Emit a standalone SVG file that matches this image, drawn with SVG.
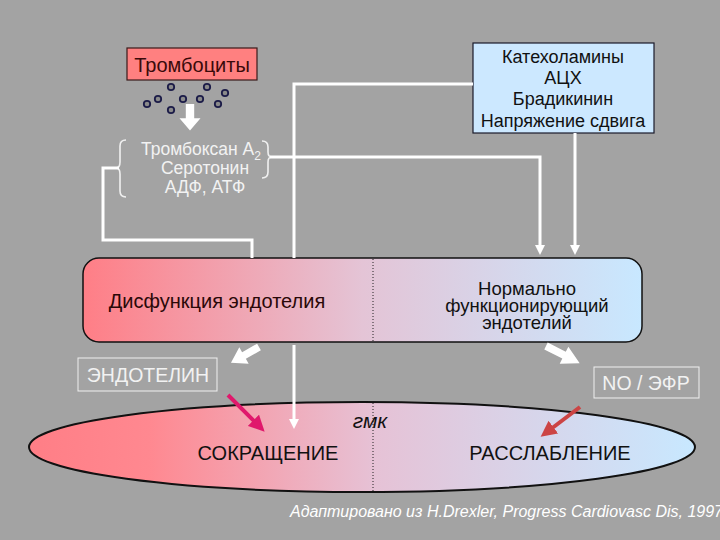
<svg xmlns="http://www.w3.org/2000/svg" width="720" height="540" viewBox="0 0 720 540">
<style>
text{font-family:"Liberation Sans",Arial,sans-serif}
.w{fill:#F2F2F2}
.k{fill:#111}
.ln{stroke:#FFFFFF;stroke-width:3;fill:none}
.br{stroke:#F0F0F0;stroke-width:1.6;fill:none}
.dot{fill:#8A8A8A;stroke:#1C1C48;stroke-width:1.8}
.blk{fill:#FFFFFF}
</style>
<defs>
<marker id="wh" markerWidth="10" markerHeight="10" refX="5" refY="5" orient="auto" markerUnits="userSpaceOnUse" viewBox="0 0 10 10"><path d="M0,0 L10,5 L0,10 Z" fill="#FFFFFF"/></marker>
<marker id="pk" markerWidth="16" markerHeight="16" refX="8" refY="8" orient="auto" markerUnits="userSpaceOnUse" viewBox="0 0 16 16"><path d="M0,0 L16,8 L0,16 Z" fill="#E0186C"/></marker>
<marker id="rd" markerWidth="16" markerHeight="16" refX="8" refY="8" orient="auto" markerUnits="userSpaceOnUse" viewBox="0 0 16 16"><path d="M0,0 L16,8 L0,16 Z" fill="#CC4444"/></marker>
<linearGradient id="gb" gradientUnits="userSpaceOnUse" x1="83" y1="0" x2="642" y2="0">
<stop offset="0" stop-color="#FF7E86"/><stop offset="0.5" stop-color="#E4C4D6"/><stop offset="1" stop-color="#C8E8FF"/>
</linearGradient>
<linearGradient id="ge" gradientUnits="userSpaceOnUse" x1="29" y1="0" x2="695" y2="0">
<stop offset="0" stop-color="#FF7E86"/><stop offset="0.18" stop-color="#FF8890"/><stop offset="0.52" stop-color="#E6C2D6"/><stop offset="1" stop-color="#C8E8FF"/>
</linearGradient>
<path id="barrow" d="M0,-4 L15,-4 L15,-10 L28,0 L15,10 L15,4 L0,4 Z"/>
</defs>
<rect width="720" height="540" fill="#A3A3A3"/>

<g id="platelets">
<rect x="127" y="48" width="130" height="32" fill="#FF8080" stroke="#3A1A1A" stroke-width="1.2"/>
<text x="192" y="72" text-anchor="middle" font-size="20" fill="#3A0A0A">Тромбоциты</text>
<circle class="dot" cx="171" cy="87" r="3.2"/>
<circle class="dot" cx="207" cy="87" r="3.2"/>
<circle class="dot" cx="147" cy="104" r="3.2"/>
<circle class="dot" cx="158" cy="99" r="3.2"/>
<circle class="dot" cx="183" cy="99" r="3.2"/>
<circle class="dot" cx="200" cy="99" r="3.2"/>
<circle class="dot" cx="225" cy="93" r="3.2"/>
<circle class="dot" cx="218" cy="104" r="3.2"/>
<circle class="dot" cx="171" cy="110" r="3.2"/>
</g>

<g id="mediators">
<path class="br" d="M126,140 Q120,140 120,146 V162 Q120,168 116,168 Q120,168 120,174 V191 Q120,197 126,197"/>
<path class="br" d="M262,141 Q268,141 268,147 V152 Q268,157 272,157 Q268,157 268,162 V172 Q268,178 262,178"/>
<text x="201" y="155" text-anchor="middle" font-size="17.5" class="w">Тромбоксан A<tspan font-size="12" dy="5">2</tspan></text>
<text x="205" y="174" text-anchor="middle" font-size="17.5" class="w">Серотонин</text>
<text x="205" y="193" text-anchor="middle" font-size="17.5" class="w">АДФ, АТФ</text>
</g>

<g id="stimuli">
<rect x="473" y="43" width="181" height="90" fill="#CCE8FF" stroke="#1A1A2A" stroke-width="1.2"/>
<text x="563" y="63" text-anchor="middle" font-size="18" class="k">Катехоламины</text>
<text x="563" y="84" text-anchor="middle" font-size="18" class="k">АЦХ</text>
<text x="563" y="105" text-anchor="middle" font-size="18" class="k">Брадикинин</text>
<text x="563" y="127" text-anchor="middle" font-size="18" class="k">Напряжение сдвига</text>
</g>

<g id="endothelium">
<rect x="83" y="258" width="559" height="84" rx="16" fill="url(#gb)" stroke="#111" stroke-width="1.5"/>
<line x1="373" y1="259" x2="373" y2="341" stroke="#222" stroke-width="1" stroke-dasharray="1,2"/>
<text x="217" y="308" text-anchor="middle" font-size="20" fill="#2A0808">Дисфункция эндотелия</text>
<text x="527" y="295" text-anchor="middle" font-size="18.5" class="k">Нормально</text>
<text x="527" y="312" text-anchor="middle" font-size="18.5" class="k">функционирующий</text>
<text x="527" y="329" text-anchor="middle" font-size="18.5" class="k">эндотелий</text>
</g>

<g id="endothelin">
<rect x="78" y="358" width="139" height="33" fill="none" stroke="#F0F0F0" stroke-width="1"/>
<text x="148" y="382" text-anchor="middle" font-size="19.5" class="w">ЭНДОТЕЛИН</text>
</g>

<g id="no">
<rect x="594" y="367" width="105" height="31" fill="none" stroke="#F0F0F0" stroke-width="1"/>
<text x="646" y="390" text-anchor="middle" font-size="19.5" class="w">NO / ЭФР</text>
</g>

<g id="smc">
<ellipse cx="362" cy="447" rx="333" ry="45" fill="url(#ge)" stroke="#111" stroke-width="2"/>
<line x1="373" y1="403" x2="373" y2="492" stroke="#222" stroke-width="1" stroke-dasharray="1,2"/>
<text x="370" y="428" text-anchor="middle" font-size="21" font-style="italic" class="k">гмк</text>
<text x="268" y="460" text-anchor="middle" font-size="20" class="k">СОКРАЩЕНИЕ</text>
<text x="550" y="460" text-anchor="middle" font-size="20" class="k">РАССЛАБЛЕНИЕ</text>
</g>

<g id="connectors">
<path class="ln" d="M473,84 H294 V258"/>
<path class="ln" d="M294,345 V424" marker-end="url(#wh)"/>
<path class="ln" d="M270,157 H540 V250" marker-end="url(#wh)"/>
<path class="ln" d="M575,133 V250" marker-end="url(#wh)"/>
<path class="ln" d="M119,168 H103 V240 H252 V258"/>
<use href="#barrow" class="blk" transform="translate(190,104) rotate(90) scale(0.95,1.05)"/>
<use href="#barrow" class="blk" transform="translate(259,347) rotate(150.5) scale(1.15,0.95)"/>
<use href="#barrow" class="blk" transform="translate(546,346) rotate(27) scale(1.35,0.95)"/>
<line x1="228" y1="395" x2="259" y2="426" stroke="#E0186C" stroke-width="4" marker-end="url(#pk)"/>
<line x1="580" y1="407" x2="547" y2="432" stroke="#CC4444" stroke-width="4" marker-end="url(#rd)"/>
</g>

<text x="290" y="517" font-size="16" font-style="italic" fill="#FFFFFF">Адаптировано из H.Drexler, Progress Cardiovasc Dis, 1997</text>
</svg>
